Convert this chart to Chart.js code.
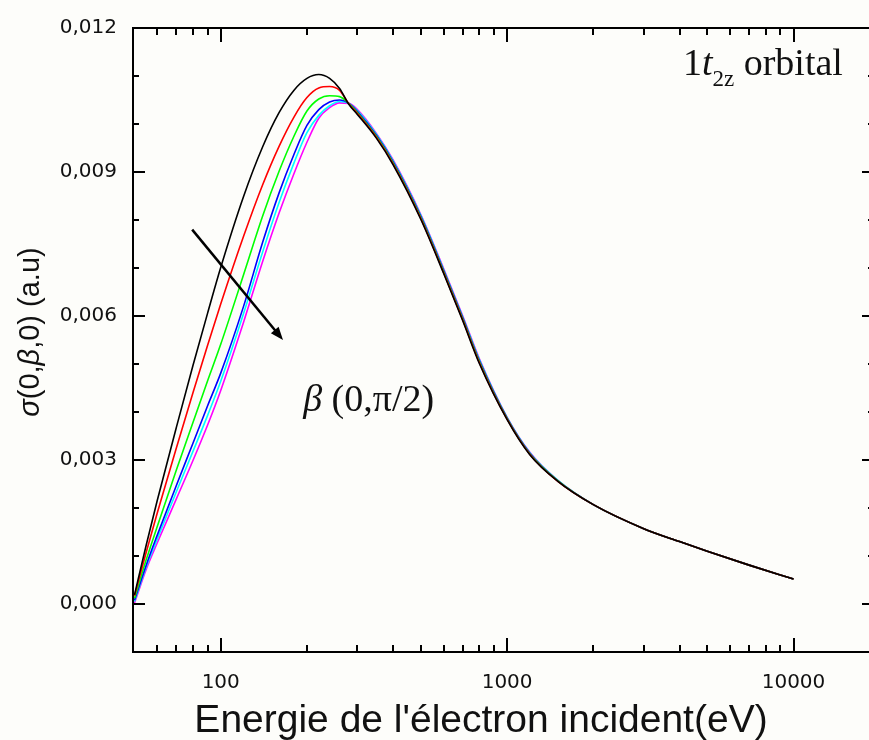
<!DOCTYPE html>
<html>
<head>
<meta charset="utf-8">
<script src="https://cdn.jsdelivr.net/npm/chart.js@4.4.1/dist/chart.umd.min.js"></script>
<style>
  html, body { margin: 0; padding: 0; background: #fdfdfa; overflow: hidden; }
  #caixa { position: relative; width: 884px; height: 740px; }
</style>
</head>
<body>
<div id="caixa"><canvas id="graficoSecao" width="884" height="740"></canvas></div>
<script>
// energia do eletron incidente (eV)
const energias = [50, 55, 60, 70, 80, 90, 100, 120, 140, 160, 180, 200, 220, 240, 260, 280,
                  300, 350, 400, 500, 600, 700, 800, 1000, 1200, 1500, 2000, 3000, 4000, 5000, 7000, 10000];

// secao eficaz sigma(0,beta,0) para beta de 0 ate pi/2
const sigmaPreto = [0.00019, 0.00124, 0.00215, 0.00368, 0.00497, 0.00606, 0.00701, 0.00848, 0.00952, 0.01024, 0.01070, 0.01095, 0.01103, 0.01095, 0.01074, 0.01041,
                    0.01020, 0.00970, 0.00915, 0.00801, 0.00689, 0.00590, 0.00501, 0.00384, 0.00311, 0.00256, 0.00207, 0.00157, 0.00130, 0.00110, 0.00081, 0.00052];
const sigmaVermelho = [0.00017, 0.00109, 0.00189, 0.00325, 0.00440, 0.00539, 0.00625, 0.00765, 0.00873, 0.00954, 0.01014, 0.01055, 0.01075, 0.01078, 0.01070, 0.01042,
                       0.01022, 0.00972, 0.00917, 0.00803, 0.00691, 0.00592, 0.00503, 0.00385, 0.00312, 0.00256, 0.00207, 0.00157, 0.00130, 0.00110, 0.00081, 0.00052];
const sigmaVerde = [0.00012, 0.00093, 0.00161, 0.00279, 0.00378, 0.00465, 0.00541, 0.00685, 0.00808, 0.00902, 0.00974, 0.01027, 0.01052, 0.01059, 0.01057, 0.01043,
                    0.01024, 0.00974, 0.00919, 0.00805, 0.00693, 0.00594, 0.00505, 0.00386, 0.00313, 0.00257, 0.00207, 0.00157, 0.00130, 0.00110, 0.00081, 0.00052];
const sigmaAzul = [0.00008, 0.00082, 0.00143, 0.00247, 0.00335, 0.00413, 0.00481, 0.00619, 0.00753, 0.00857, 0.00936, 0.00997, 0.01030, 0.01046, 0.01050, 0.01043,
                   0.01026, 0.00976, 0.00921, 0.00807, 0.00695, 0.00596, 0.00507, 0.00387, 0.00314, 0.00257, 0.00207, 0.00157, 0.00130, 0.00110, 0.00081, 0.00052];
const sigmaCiano = [0.00005, 0.00078, 0.00135, 0.00234, 0.00318, 0.00393, 0.00464, 0.00604, 0.00733, 0.00837, 0.00918, 0.00982, 0.01018, 0.01038, 0.01047, 0.01043,
                    0.01028, 0.00978, 0.00923, 0.00809, 0.00697, 0.00598, 0.00509, 0.00388, 0.00315, 0.00258, 0.00207, 0.00157, 0.00130, 0.00110, 0.00081, 0.00052];
const sigmaMagenta = [0.00002, 0.00073, 0.00127, 0.00219, 0.00299, 0.00373, 0.00445, 0.00586, 0.00713, 0.00815, 0.00896, 0.00962, 0.01012, 0.01034, 0.01044, 0.01043,
                      0.01030, 0.00980, 0.00925, 0.00811, 0.00699, 0.00600, 0.00511, 0.00389, 0.00316, 0.00258, 0.00207, 0.00157, 0.00130, 0.00110, 0.00081, 0.00052];

const cores = ["#000000", "#ff0000", "#00ff00", "#0000ff", "#00ffff", "#ff00ff"];

// marcas do eixo x (log) e quais recebem rotulo
const marcasX = [60, 70, 80, 90, 100, 200, 300, 400, 500, 600, 700, 800, 900, 1000,
                 2000, 3000, 4000, 5000, 6000, 7000, 8000, 9000, 10000];
const rotulosX = [100, 1000, 10000];

// seta e textos, posicionados em coordenadas de dados
const setaInicio = { e: 79.5, s: 0.0078 };
const setaFim = { e: 165, s: 0.0055 };
const posBeta = { e: 194, s: 0.00403 };
const posOrbital = { e: 4110, s: 0.01103 };

const series = [sigmaPreto, sigmaVermelho, sigmaVerde, sigmaAzul, sigmaCiano, sigmaMagenta];

function escreverPartes(ctx, partes, x, y) {
    let cx = x;
    partes.forEach(p => {
        ctx.font = p.fonte;
        ctx.fillText(p.t, cx, y + (p.dy || 0));
        cx += ctx.measureText(p.t).width;
    });
    return cx - x;
}

function larguraPartes(ctx, partes) {
    let w = 0;
    partes.forEach(p => { ctx.font = p.fonte; w += ctx.measureText(p.t).width; });
    return w;
}

const eixosPlugin = {
    id: "eixos",
    afterDraw(chart) {
        const { ctx, chartArea: a, scales: { x, y } } = chart;
        ctx.save();
        ctx.strokeStyle = "#000";
        ctx.fillStyle = "#000";
        ctx.lineWidth = 2;
        ctx.lineCap = "butt";
        ctx.strokeRect(a.left, a.top, a.right - a.left, a.bottom - a.top);

        ctx.beginPath();
        y.ticks.forEach(t => {
            const py = Math.round(y.getPixelForValue(t.value));
            const m = Math.round(t.value * 1000);
            const len = (m % 3 === 0) ? 12 : 6;
            ctx.moveTo(a.left, py); ctx.lineTo(a.left + len, py);
            ctx.moveTo(a.right, py); ctx.lineTo(a.right - len, py);
        });
        x.ticks.forEach(t => {
            const px = Math.round(x.getPixelForValue(t.value));
            const len = rotulosX.includes(t.value) ? 14 : 7;
            ctx.moveTo(px, a.bottom); ctx.lineTo(px, a.bottom - len);
            ctx.moveTo(px, a.top); ctx.lineTo(px, a.top + len);
        });
        ctx.stroke();

        // seta
        const x1 = x.getPixelForValue(setaInicio.e), y1 = y.getPixelForValue(setaInicio.s);
        const x2 = x.getPixelForValue(setaFim.e), y2 = y.getPixelForValue(setaFim.s);
        const ang = Math.atan2(y2 - y1, x2 - x1);
        ctx.lineWidth = 2.5;
        ctx.beginPath();
        ctx.moveTo(x1, y1);
        ctx.lineTo(x2 - 8 * Math.cos(ang), y2 - 8 * Math.sin(ang));
        ctx.stroke();
        ctx.beginPath();
        ctx.moveTo(x2, y2);
        ctx.lineTo(x2 - 13 * Math.cos(ang) + 5 * Math.sin(ang), y2 - 13 * Math.sin(ang) - 5 * Math.cos(ang));
        ctx.lineTo(x2 - 13 * Math.cos(ang) - 5 * Math.sin(ang), y2 - 13 * Math.sin(ang) + 5 * Math.cos(ang));
        ctx.closePath();
        ctx.fill();

        // textos
        ctx.fillStyle = "#111";
        ctx.textBaseline = "alphabetic";
        ctx.textAlign = "left";
        const serif = "'Liberation Serif', 'Times New Roman', serif";
        escreverPartes(ctx, [
            { t: "1", fonte: "38px " + serif },
            { t: "t", fonte: "italic 38px " + serif },
            { t: "2z", fonte: "23px " + serif, dy: 11 },
            { t: " orbital", fonte: "38px " + serif }
        ], x.getPixelForValue(posOrbital.e), y.getPixelForValue(posOrbital.s));

        escreverPartes(ctx, [
            { t: "\u03b2", fonte: "italic 38px " + serif },
            { t: " (0,\u03c0/2)", fonte: "38px " + serif }
        ], x.getPixelForValue(posBeta.e), y.getPixelForValue(posBeta.s));

        const sans = "'Liberation Sans', Arial, sans-serif";
        const tituloX = [{ t: "Energie de l'\u00e9lectron incident(eV)", fonte: "39px " + sans }];
        const wx = larguraPartes(ctx, tituloX);
        escreverPartes(ctx, tituloX, 481 - wx / 2, 732);

        const tituloY = [
            { t: "\u03c3", fonte: "italic 29px " + sans },
            { t: "(0,", fonte: "29px " + sans },
            { t: "\u03b2", fonte: "italic 29px " + sans },
            { t: ",0) (a.u)", fonte: "29px " + sans }
        ];
        const wy = larguraPartes(ctx, tituloY);
        ctx.translate(39, 332);
        ctx.rotate(-Math.PI / 2);
        escreverPartes(ctx, tituloY, -wy / 2, 0);
        ctx.restore();
    }
};

Chart.defaults.font.family = "'DejaVu Sans', Verdana, sans-serif";
Chart.defaults.color = "#111";

new Chart(document.getElementById("graficoSecao"), {
    type: "line",
    data: {
        datasets: series.map((s, i) => ({
            data: s.map((v, k) => ({ x: energias[k], y: v })),
            borderColor: cores[i],
            borderWidth: 1.6,
            pointRadius: 0,
            fill: false,
            cubicInterpolationMode: "monotone"
        }))
    },
    options: {
        responsive: false,
        animation: false,
        devicePixelRatio: 1,
        layout: { padding: { top: 23, right: 10, left: 0, bottom: 0 } },
        plugins: { legend: { display: false }, tooltip: { enabled: false } },
        scales: {
            x: {
                type: "logarithmic",
                min: 49.4,
                max: 19100,
                grid: { display: false, drawTicks: false },
                border: { display: false },
                afterBuildTicks: s => { s.ticks = marcasX.map(v => ({ value: v })); },
                afterFit: s => { s.height = 88; },
                ticks: {
                    autoSkip: false,
                    maxRotation: 0,
                    padding: 19,
                    font: { size: 20 },
                    callback: v => rotulosX.includes(v) ? String(v) : ""
                }
            },
            y: {
                type: "linear",
                min: -0.001,
                max: 0.012,
                grid: { display: false, drawTicks: false },
                border: { display: false },
                afterFit: s => { s.width = 133; },
                ticks: {
                    stepSize: 0.001,
                    padding: 16,
                    font: { size: 20 },
                    callback: v => {
                        const m = Math.round(v * 1000);
                        return (m % 3 === 0 && m >= 0) ? (m / 1000).toFixed(3).replace(".", ",") : "";
                    }
                }
            }
        }
    },
    plugins: [eixosPlugin]
});
</script>
</body>
</html>
